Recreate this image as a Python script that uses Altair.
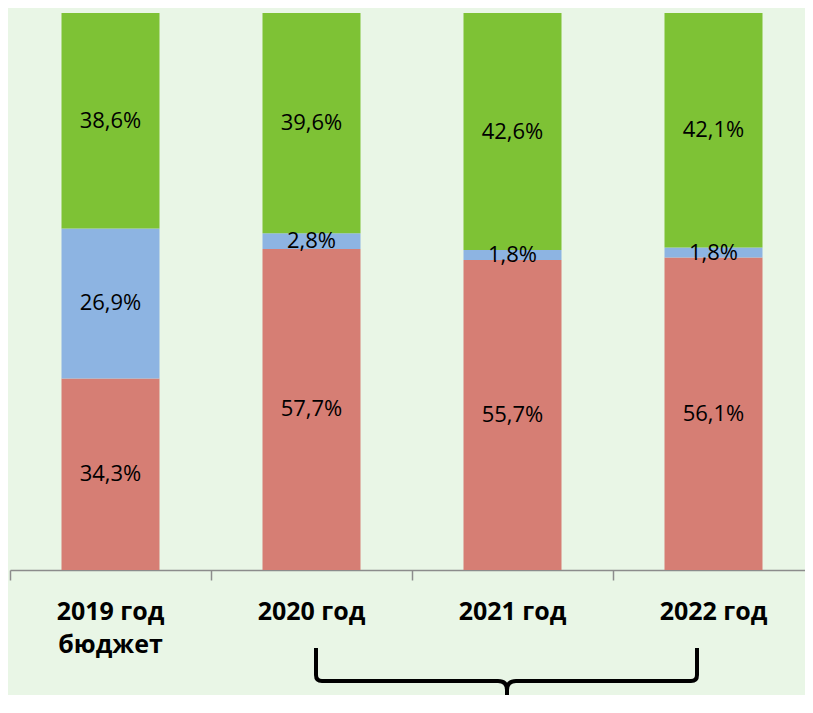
import altair as alt
import pandas as pd

years = ["2019 год|бюджет", "2020 год", "2021 год", "2022 год"]
red_vals = [34.3, 57.7, 55.7, 56.1]
blue_vals = [26.9, 2.8, 1.8, 1.8]
green_vals = [38.6, 39.6, 42.6, 42.1]

series = ["red", "blue", "green"]
colors = ["#D67E74", "#8DB4E2", "#7EC235"]

rows = []
for i, y in enumerate(years):
    for k, (s, vals) in enumerate(zip(series, [red_vals, blue_vals, green_vals])):
        v = vals[i]
        rows.append({"year": y, "series": s, "order": k, "value": v,
                     "label": f"{v:.1f}".replace(".", ",") + "%"})
df = pd.DataFrame(rows)

FONT = "Open Sans"

base = alt.Chart(df).transform_stack(
    stack="value", groupby=["year"], as_=["y0", "y1"], offset="normalize",
    sort=[alt.SortField("order", order="ascending")]
).transform_calculate(mid="(datum.y0 + datum.y1) / 2")

xscale = alt.Scale(domain=years, range=[0, 804], paddingInner=0, paddingOuter=0)

xenc = alt.X(
    "year:N", sort=years, title=None, scale=xscale,
    axis=alt.Axis(
        labelAngle=0, labelFont=FONT, labelFontSize=25, labelFontWeight="bold",
        labelColor="black", domainColor="#8c8c8c", tickColor="#8c8c8c",
        domainWidth=1.5, tickWidth=1.5, tickSize=10, labelPadding=19,
        labelLineHeight=33, labelBaseline="top", grid=False, bandPosition=0,
        labelExpr="split(datum.label, '|')",
    ),
)
yscale = alt.Scale(domain=[0, 1])

bars = base.mark_bar(width=alt.RelativeBandSize(0.4876)).encode(
    x=xenc,
    y=alt.Y("y0:Q", scale=yscale, axis=None),
    y2="y1:Q",
    color=alt.Color("series:N", scale=alt.Scale(domain=series, range=colors), legend=None),
)

texts = base.mark_text(font=FONT, fontSize=22, color="black", baseline="middle").encode(
    x=alt.X("year:N", sort=years, scale=xscale),
    y=alt.Y("mid:Q", scale=yscale),
    text="label:N",
)

brace_path = ("M -191 -33 L -191 -6 Q -191 0 -185 0 L -9 0 Q 0 0 0 9 L 0 45 "
              "M 0 9 Q 0 0 9 0 L 184 0 Q 190 0 190 -6 L 190 -33")
brace = alt.Chart(pd.DataFrame({"a": [0]})).mark_point(
    shape=brace_path, size=4, filled=False, stroke="black", strokeWidth=4, opacity=1
).encode(x=alt.value(497), y=alt.value(668))

chart = alt.layer(bars, texts, brace).properties(
    width=795, height=557,
    autosize=alt.AutoSizeParams(type="none"),
    padding={"left": 2, "top": 5, "right": 0, "bottom": 125},
    background="#E9F6E6",
).configure_view(stroke=None)

chart.save("out.html", embed_options={"renderer": "svg", "actions": False})
